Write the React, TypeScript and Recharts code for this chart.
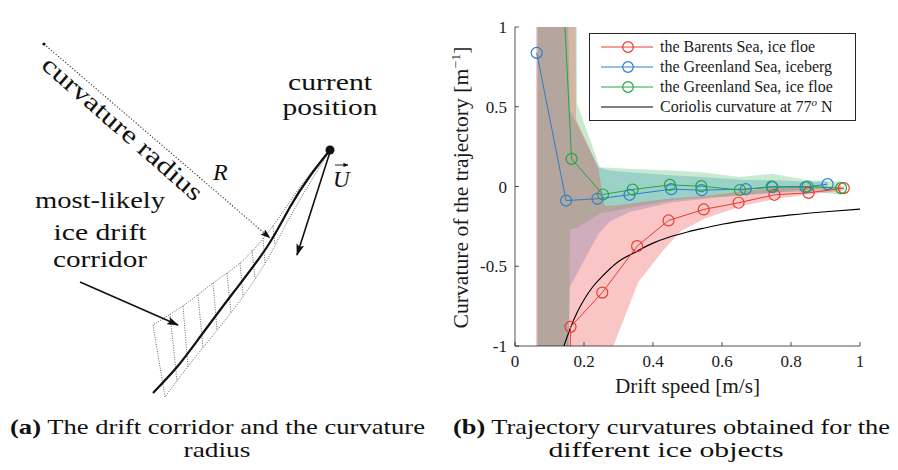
import React from 'react';
import { ComposedChart, Line, Area, XAxis, YAxis, Legend, Scatter } from 'recharts';

const AXIS_COLOR = '#262626';
const SERIF = 'Liberation Serif';

const RED = '#ec3a30';
const BLUE = '#2a7fca';
const GREEN = '#22a745';

// ---------- Panel (b): trajectory curvature (×1e-3 1/m) versus drift speed (m/s) ----------
const barentsSpeed = [0.157, 0.161, 0.253, 0.354, 0.445, 0.547, 0.648, 0.752, 0.851, 0.953];
const barentsCurv = [-1.6, -0.88, -0.665, -0.374, -0.213, -0.144, -0.102, -0.052, -0.04, -0.01];

const icebergSpeed = [0.063, 0.148, 0.239, 0.332, 0.453, 0.541, 0.669, 0.746, 0.842, 0.906];
const icebergCurv = [0.838, -0.088, -0.077, -0.052, -0.017, -0.023, -0.016, -0.004, -0.004, 0.015];

const greenFloeSpeed = [0.138, 0.164, 0.255, 0.341, 0.449, 0.54, 0.652, 0.744, 0.848, 0.945];
const greenFloeCurv = [1.3, 0.173, -0.05, -0.019, 0.01, 0.002, -0.022, 0.0, 0.0, -0.01];

const coriolisSpeed = [0.14, 0.15, 0.16, 0.18, 0.2, 0.225, 0.25, 0.3, 0.35, 0.4, 0.45, 0.5, 0.55, 0.6, 0.7, 0.8, 0.9, 1.0];
const coriolisCurv = [-1.01, -0.95, -0.89, -0.79, -0.71, -0.63, -0.57, -0.47, -0.41, -0.355, -0.315, -0.285, -0.26, -0.237, -0.203, -0.178, -0.158, -0.142];

// spread bands (low / high) for each ice object
const barentsBandSpeed = [0.061, 0.175, 0.177, 0.241, 0.26, 0.285, 0.357, 0.43, 0.48, 0.55, 0.66, 0.75, 0.85, 0.955];
const barentsBandLow = [-1.6, -1.6, -1.6, -1.35, -1.15, -1.0, -0.6, -0.4, -0.28, -0.2, -0.12, -0.08, -0.05, -0.025];
const barentsBandHigh = [1.6, 1.6, 0.42, 0.12, -0.12, -0.12, -0.1, -0.08, -0.07, -0.06, -0.03, -0.01, 0.0, 0.0];

const icebergBandSpeed = [0.065, 0.148, 0.159, 0.241, 0.275, 0.332, 0.453, 0.541, 0.667, 0.746, 0.845, 0.906];
const icebergBandLow = [-1.6, -1.6, -0.63, -0.3, -0.22, -0.16, -0.1, -0.08, -0.05, -0.04, -0.02, -0.01];
const icebergBandHigh = [1.6, 1.6, 0.48, 0.12, 0.1, 0.09, 0.07, 0.06, 0.04, 0.04, 0.03, 0.03];

const greenBandSpeed = [0.065, 0.155, 0.159, 0.178, 0.18, 0.246, 0.341, 0.449, 0.54, 0.652, 0.744, 0.848, 0.945];
const greenBandLow = [-1.6, -1.6, -0.27, -0.26, -0.26, -0.17, -0.13, -0.09, -0.07, -0.06, -0.04, -0.03, -0.05];
const greenBandHigh = [1.6, 1.6, 1.6, 1.6, 0.52, 0.12, 0.11, 0.1, 0.09, 0.06, 0.08, 0.04, 0.03];

const xTicks = [0, 0.2, 0.4, 0.6, 0.8, 1];
const yTicks = [-1, -0.5, 0, 0.5, 1];

const legendLabels = [
  'the Barents Sea, ice floe',
  'the Greenland Sea, iceberg',
  'the Greenland Sea, ice floe',
  'Coriolis curvature at 77',
];

const zipPoints = (xs: number[], ys: number[]) => xs.map((x, i) => ({ x, y: ys[i] }));
const zipBand = (xs: number[], lo: number[], hi: number[]) => xs.map((x, i) => ({ x, range: [lo[i], hi[i]] }));

const barentsData = zipPoints(barentsSpeed, barentsCurv);
const icebergData = zipPoints(icebergSpeed, icebergCurv);
const greenFloeData = zipPoints(greenFloeSpeed, greenFloeCurv);
const coriolisData = zipPoints(coriolisSpeed, coriolisCurv);
const barentsBand = zipBand(barentsBandSpeed, barentsBandLow, barentsBandHigh);
const icebergBand = zipBand(icebergBandSpeed, icebergBandLow, icebergBandHigh);
const greenBand = zipBand(greenBandSpeed, greenBandLow, greenBandHigh);

// ---------- Panel (a): sketch of the drift corridor (pixel-space coordinates) ----------
const radiusCentre = [{ x: 44, y: 44 }];
const radiusLine = [{ x: 44, y: 44 }, { x: 270, y: 238 }];
const currentPosition = [{ x: 330, y: 150 }];
const velocityArrow = [{ x: 330, y: 152 }, { x: 297, y: 255 }];
const velocityAccent = [{ x: 335, y: 165 }, { x: 348, y: 165 }];
const pointerArrow = [{ x: 80, y: 282 }, { x: 178, y: 325 }];
const trajectoryPath = [
  { x: 330, y: 150 }, { x: 310, y: 176 }, { x: 290, y: 207 }, { x: 267, y: 247 },
  { x: 233, y: 293 }, { x: 200, y: 337 }, { x: 177, y: 367 }, { x: 153, y: 393 },
];
const corridorUpper = [
  { x: 330, y: 150 }, { x: 300, y: 187 }, { x: 270, y: 230 }, { x: 240, y: 263 },
  { x: 213, y: 283 }, { x: 187, y: 303 }, { x: 153, y: 325 },
];
const corridorLower = [
  { x: 330, y: 150 }, { x: 290, y: 217 }, { x: 267, y: 260 }, { x: 233, y: 310 },
  { x: 193, y: 360 }, { x: 165, y: 397 },
];
const corridorEdge = [{ x: 153, y: 325 }, { x: 165, y: 397 }];
const hatchTops = [[170, 314], [183, 306], [198, 295], [213, 283], [227, 273], [240, 263], [252, 250], [263, 238], [273, 226]];
const hatchBottoms = [[177, 381], [188, 367], [203, 348], [217, 330], [231, 313], [243, 295], [255, 278], [265, 263], [275, 245]];
const hatchSegments = hatchTops.flatMap((t, i) => [
  { x: t[0], y: t[1] },
  { x: hatchBottoms[i][0], y: hatchBottoms[i][1] },
  { x: hatchBottoms[i][0], y: null },
]);

const BottomTick = ({ x, y, payload }: any) => (
  <g>
    <line x1={x} x2={x} y1={y} y2={y - 4} stroke={AXIS_COLOR} strokeWidth={0.8} />
    <text x={x} y={y + 21} textAnchor="middle" fontFamily={SERIF} fontSize={17} fill="#1a1a1a">
      {String(payload.value)}
    </text>
  </g>
);
const LeftTick = ({ x, y, payload }: any) => (
  <g>
    <line x1={x} x2={x + 4} y1={y} y2={y} stroke={AXIS_COLOR} strokeWidth={0.8} />
    <text x={x - 8} y={y + 6} textAnchor="end" fontFamily={SERIF} fontSize={17} fill="#1a1a1a">
      {String(payload.value)}
    </text>
  </g>
);
const TopTick = ({ x, y }: any) => <line x1={x} x2={x} y1={y} y2={y + 4} stroke={AXIS_COLOR} strokeWidth={0.8} />;
const RightTick = ({ x, y }: any) => <line x1={x} x2={x - 4} y1={y} y2={y} stroke={AXIS_COLOR} strokeWidth={0.8} />;

const XTitle = ({ viewBox }: any) => (
  <text x={viewBox.x + viewBox.width / 2} y={viewBox.y + 47} textAnchor="middle" fontFamily={SERIF} fontSize={20} fill="#1a1a1a" textLength={145} lengthAdjust="spacingAndGlyphs">
    Drift speed [m/s]
  </text>
);
const YTitle = ({ viewBox }: any) => {
  const cx = viewBox.x + 28;
  const cy = viewBox.y + viewBox.height / 2 + 1;
  return (
    <text x={cx} y={cy} transform={`rotate(-90 ${cx} ${cy})`} textAnchor="middle" fontFamily={SERIF} fontSize={20} fill="#1a1a1a" textLength={282} lengthAdjust="spacingAndGlyphs">
      Curvature of the trajectory [m<tspan fontSize={13} dy={-8}>−1</tspan><tspan dy={8}>]</tspan>
    </text>
  );
};
const ScaleNote = ({ viewBox }: any) => (
  <text x={viewBox.x + 2} y={viewBox.y - 6} fontFamily={SERIF} fontSize={17} fill="#1a1a1a">
    ×10<tspan fontSize={12} dy={-7}>−3</tspan>
  </text>
);

const legendColors = [RED, BLUE, GREEN, '#000'];
const LegendBox = () => (
  <svg width={268} height={89} style={{ display: 'block' }}>
    <rect x={0.5} y={0.5} width={266} height={87} fill="#fff" stroke={AXIS_COLOR} strokeWidth={1} />
    {legendLabels.map((label, i) => {
      const cy = 14 + i * 20;
      const c = legendColors[i];
      return (
        <g key={label}>
          <line x1={12} x2={64} y1={cy} y2={cy} stroke={c} strokeWidth={1} />
          {i < 3 && <circle cx={39} cy={cy} r={5.3} fill="none" stroke={c} strokeWidth={1.2} />}
          <text x={71} y={cy + 5} fontFamily={SERIF} fontSize={16} fill="#1a1a1a">
            {label}
            {i === 3 && (
              <>
                <tspan fontSize={11} dy={-6} fontStyle="italic">o</tspan>
                <tspan dy={6}> N</tspan>
              </>
            )}
          </text>
        </g>
      );
    })}
  </svg>
);

const dotStyle = (color: string) => ({ r: 5.5, stroke: color, strokeWidth: 1.2, fill: 'none' });

function DiagramPanel() {
  const ink = '#111';
  return (
    <ComposedChart width={440} height={400} margin={{ top: 0, right: 0, bottom: 0, left: 0 }}>
      <XAxis type="number" dataKey="x" domain={[0, 440]} hide />
      <YAxis type="number" dataKey="y" domain={[0, 400]} reversed hide />
      <Line data={hatchSegments} dataKey="y" stroke="#555" strokeWidth={0.9} strokeDasharray="1 1.4" dot={false} activeDot={false} isAnimationActive={false} />
      <Line data={corridorUpper} dataKey="y" type="natural" stroke="#555" strokeWidth={0.9} strokeDasharray="1 1.4" dot={false} activeDot={false} isAnimationActive={false} />
      <Line data={corridorLower} dataKey="y" type="natural" stroke="#555" strokeWidth={0.9} strokeDasharray="1 1.4" dot={false} activeDot={false} isAnimationActive={false} />
      <Line data={corridorEdge} dataKey="y" stroke="#555" strokeWidth={0.9} strokeDasharray="1 1.4" dot={false} activeDot={false} isAnimationActive={false} />
      <Line data={trajectoryPath} dataKey="y" type="natural" stroke={ink} strokeWidth={2.2} dot={false} activeDot={false} isAnimationActive={false} />
      <Line data={radiusLine} dataKey="y" stroke="#222" strokeWidth={1.1} strokeDasharray="1.1 2" dot={false} activeDot={false} isAnimationActive={false} markerEnd="url(#arrowSmall)" />
      <Line data={velocityArrow} dataKey="y" stroke={ink} strokeWidth={1.6} dot={false} activeDot={false} isAnimationActive={false} markerEnd="url(#arrowBig)" />
      <Line data={velocityAccent} dataKey="y" stroke={ink} strokeWidth={0.9} dot={false} activeDot={false} isAnimationActive={false} markerEnd="url(#arrowTiny)" />
      <Line data={pointerArrow} dataKey="y" stroke={ink} strokeWidth={1.6} dot={false} activeDot={false} isAnimationActive={false} markerEnd="url(#arrowBig)" />
      <Scatter data={radiusCentre} isAnimationActive={false} shape={(p: any) => <circle cx={p.cx} cy={p.cy} r={1.6} fill={ink} />} />
      <Scatter data={currentPosition} isAnimationActive={false} shape={(p: any) => <circle cx={p.cx} cy={p.cy} r={4.5} fill={ink} />} />
    </ComposedChart>
  );
}

function CurvaturePanel() {
  return (
    <ComposedChart width={458} height={400} margin={{ top: 27, right: 38, bottom: 0, left: 0 }}>
      <XAxis type="number" dataKey="x" domain={[0, 1]} ticks={xTicks} allowDataOverflow height={54}
        tick={BottomTick} tickSize={0} tickMargin={0} tickLine={false} axisLine={{ stroke: AXIS_COLOR, strokeWidth: 0.8 }}
        label={XTitle} />
      <XAxis xAxisId="top" orientation="top" type="number" domain={[0, 1]} ticks={xTicks} allowDataOverflow height={0}
        tick={TopTick} tickSize={0} tickMargin={0} tickLine={false} axisLine={{ stroke: AXIS_COLOR, strokeWidth: 0.8 }}
        label={ScaleNote} />
      <YAxis type="number" domain={[-1, 1]} ticks={yTicks} allowDataOverflow width={75}
        tick={LeftTick} tickSize={0} tickMargin={0} tickLine={false} axisLine={{ stroke: AXIS_COLOR, strokeWidth: 0.8 }}
        label={YTitle} />
      <YAxis yAxisId="right" orientation="right" type="number" domain={[-1, 1]} ticks={yTicks} allowDataOverflow width={0}
        tick={RightTick} tickSize={0} tickMargin={0} tickLine={false} axisLine={{ stroke: AXIS_COLOR, strokeWidth: 0.8 }} />

      <Area data={icebergBand} dataKey="range" type="linear" stroke="none" fill="#2080d0" fillOpacity={0.27} isAnimationActive={false} activeDot={false} />
      <Area data={greenBand} dataKey="range" type="linear" stroke="none" fill="#30b050" fillOpacity={0.27} isAnimationActive={false} activeDot={false} />
      <Area data={barentsBand} dataKey="range" type="linear" stroke="none" fill="#f04040" fillOpacity={0.3} isAnimationActive={false} activeDot={false} />

      <Line data={coriolisData} dataKey="y" type="monotone" stroke="#000" strokeWidth={1.1} dot={false} activeDot={false} isAnimationActive={false} />
      <Line data={barentsData} dataKey="y" stroke={RED} strokeWidth={1} dot={dotStyle(RED)} activeDot={false} isAnimationActive={false} />
      <Line data={icebergData} dataKey="y" stroke={BLUE} strokeWidth={1} dot={dotStyle(BLUE)} activeDot={false} isAnimationActive={false} />
      <Line data={greenFloeData} dataKey="y" stroke={GREEN} strokeWidth={1} dot={dotStyle(GREEN)} activeDot={false} isAnimationActive={false} />

      <Legend content={LegendBox} layout="horizontal" verticalAlign="middle" align="center"
        wrapperStyle={{ left: 149, top: 33, width: 268, height: 89 }} />
    </ComposedChart>
  );
}

export default function App() {
  const text = { fontFamily: SERIF, fill: '#111' };
  return (
    <div style={{ position: 'absolute', left: 0, top: 0, width: 898, height: 470, background: '#fff', overflow: 'hidden' }}>
      <div style={{ position: 'absolute', left: 0, top: 0 }}>
        <DiagramPanel />
      </div>
      <div style={{ position: 'absolute', left: 440, top: 0 }}>
        <CurvaturePanel />
      </div>
      <svg width={898} height={470} style={{ position: 'absolute', left: 0, top: 0, pointerEvents: 'none' }}>
        <defs>
          <marker id="arrowBig" viewBox="0 0 12 8" refX="11" refY="4" markerWidth="12" markerHeight="8" markerUnits="userSpaceOnUse" orient="auto">
            <path d="M0,0 L12,4 L0,8 L2.5,4 z" fill="#111" />
          </marker>
          <marker id="arrowSmall" viewBox="0 0 10 7" refX="9.5" refY="3.5" markerWidth="10" markerHeight="7" markerUnits="userSpaceOnUse" orient="auto">
            <path d="M0,0 L10,3.5 L0,7 L2,3.5 z" fill="#111" />
          </marker>
          <marker id="arrowTiny" viewBox="0 0 6 5" refX="5.5" refY="2.5" markerWidth="5" markerHeight="4.5" markerUnits="userSpaceOnUse" orient="auto">
            <path d="M0,0 L6,2.5 L0,5 z" fill="#111" />
          </marker>
        </defs>
        {/* labels of the corridor sketch */}
        <text {...text} x={330} y={90} fontSize={24} textAnchor="middle" textLength={84} lengthAdjust="spacingAndGlyphs">current</text>
        <text {...text} x={330} y={115} fontSize={24} textAnchor="middle" textLength={95} lengthAdjust="spacingAndGlyphs">position</text>
        <text {...text} x={100} y={208} fontSize={24} textAnchor="middle" textLength={130} lengthAdjust="spacingAndGlyphs">most-likely</text>
        <text {...text} x={100} y={240} fontSize={24} textAnchor="middle" textLength={93} lengthAdjust="spacingAndGlyphs">ice drift</text>
        <text {...text} x={100} y={267} fontSize={24} textAnchor="middle" textLength={94} lengthAdjust="spacingAndGlyphs">corridor</text>
        <text {...text} x={213} y={180} fontSize={24} fontStyle="italic">R</text>
        <text {...text} x={333} y={187} fontSize={23} fontStyle="italic">U</text>
        <text {...text} fontSize={25} transform="translate(40 67) rotate(41.2)" textLength={205} lengthAdjust="spacingAndGlyphs">curvature radius</text>
        {/* sub-figure captions */}
        <text {...text} x={10} y={434} fontSize={21} textLength={415} lengthAdjust="spacingAndGlyphs">
          <tspan fontWeight="bold">(a)</tspan> The drift corridor and the curvature
        </text>
        <text {...text} x={217} y={457} fontSize={21} textAnchor="middle" textLength={67} lengthAdjust="spacingAndGlyphs">radius</text>
        <text {...text} x={453} y={434} fontSize={21} textLength={437} lengthAdjust="spacingAndGlyphs">
          <tspan fontWeight="bold">(b)</tspan> Trajectory curvatures obtained for the
        </text>
        <text {...text} x={666} y={457} fontSize={22} textAnchor="middle" textLength={235} lengthAdjust="spacingAndGlyphs">different ice objects</text>
      </svg>
    </div>
  );
}
